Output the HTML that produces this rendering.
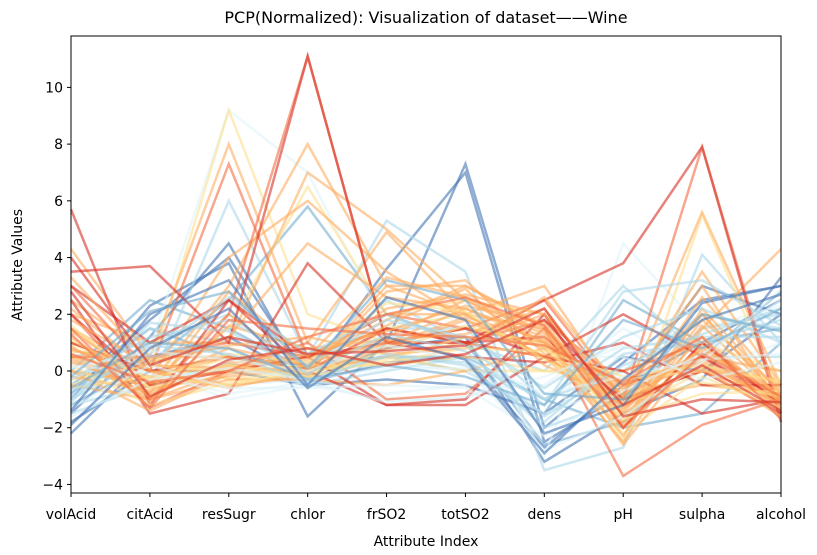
<!DOCTYPE html>
<html><head><meta charset="utf-8">
<style>
body{margin:0;background:#fff;width:817px;height:550px;overflow:hidden;font-family:"Liberation Sans","DejaVu Sans",sans-serif}
svg text{font-family:"DejaVu Sans","Liberation Sans",sans-serif;fill:#000}
</style></head>
<body>
<svg id="chart" width="817" height="550">
<text x="426" y="23" font-size="16" text-anchor="middle">PCP(Normalized): Visualization of dataset——Wine</text>
<g id="lines"></g>
<rect x="71" y="36" width="710" height="457" fill="none" stroke="#000" stroke-width="1"/>
<g id="yticks"></g>
<g id="xticks"></g>
<text x="426" y="546" font-size="14" text-anchor="middle">Attribute Index</text>
<text x="22" y="265" font-size="14" text-anchor="middle" transform="rotate(-90 22 265)">Attribute Values</text>
</svg>
<script>
const categories=["volAcid","citAcid","resSugr","chlor","frSO2","totSO2","dens","pH","sulpha","alcohol"];
const yTicks=[-4,-2,0,2,4,6,8,10];
const palette=["#4575b4","#74add1","#abd9e9","#e0f3f8","#fee090","#fdae61","#f46d43","#d73027"];
const lineClasses=[0,0,0,0,1,1,0,1, 2,3,3,2,2,3,2,3, 4,4,4,4, 5,5,5,5,5,5,5,5,5,5, 6,6,6,6, 7,7,7,7,7,7, 5,5,4,2,
5,5,5,4,5,5,5,5,4,5,5,5,4,4,5, 2,3,2,3,3,2,3,2, 0,1,0,1, 7,6,7,6];
const lineValues=[
[-2.2,0.5,1.2,-0.3,0.8,1.2,-3.2,-1.5,-0.3,3.3],
[-1.5,1.2,4.5,-0.4,0.3,0.5,-2.7,-0.5,1.0,2.5],
[-1.0,2.3,3.8,-1.6,1.0,7.3,-2.0,0.3,2.5,3.0],
[-0.8,1.8,4.0,-0.2,3.6,7.0,-2.5,-0.8,3.0,2.0],
[-1.2,0.3,2.5,5.8,2.0,1.0,-2.6,-1.8,0.5,2.8],
[-0.5,1.5,0.5,0.2,0.5,0.0,-1.5,2.5,1.0,1.5],
[-1.8,0.0,0.0,-0.5,-0.3,-0.5,-1.5,0.5,0.0,2.0],
[0.0,2.5,1.5,0.0,0.5,0.5,-1.0,-2.0,-1.5,1.0],
[-1.5,-0.5,6.0,0.5,5.3,3.5,-3.5,-2.7,4.1,1.0],
[-1.0,0.8,9.2,7.0,1.5,2.0,-3.0,4.5,1.5,2.3],
[-0.5,0.3,-0.5,-0.3,-0.8,-0.5,-0.5,1.5,0.0,1.0],
[0.5,1.0,2.0,0.0,2.5,1.0,0.0,3.0,0.5,0.5],
[-1.2,-0.5,0.3,-0.5,0.0,0.5,-2.0,-1.0,1.5,2.0],
[0.0,0.0,-1.0,-0.5,-1.0,-1.0,0.5,0.5,-0.5,-0.5],
[-0.8,1.5,1.0,0.5,1.5,1.5,-1.0,0.0,2.0,1.5],
[0.3,0.5,0.0,-0.2,0.3,0.0,-1.5,-0.5,0.5,0.0],
[0.5,0.0,9.2,2.0,1.0,1.5,1.0,-1.0,0.5,-0.5],
[1.0,-0.5,0.5,-0.3,1.5,2.0,0.5,-1.5,0.0,-1.0],
[-0.5,0.5,-0.3,0.0,0.5,0.0,0.0,0.0,1.0,0.0],
[0.0,-0.5,1.5,6.5,2.0,2.5,2.0,-2.5,5.5,-1.0],
[4.3,0.5,8.0,1.0,4.9,2.0,3.0,-1.0,5.6,-0.5],
[1.5,-0.5,3.0,8.0,3.0,3.0,1.5,-2.0,1.0,-1.2],
[2.0,1.0,1.0,7.0,5.0,2.5,1.0,-0.5,2.0,-1.0],
[0.5,-1.0,0.0,0.5,2.0,2.0,0.5,-1.0,0.0,-1.0],
[1.0,0.0,-0.5,-0.2,1.0,1.5,1.0,-1.0,-0.5,-0.8],
[0.0,-0.5,2.0,0.0,0.5,1.0,0.5,-2.0,1.0,-1.5],
[-0.5,-1.0,-0.3,-0.3,-0.5,0.0,0.8,-0.5,0.5,0.0],
[2.5,0.5,0.5,0.0,3.0,2.0,1.5,-1.5,2.0,-1.0],
[0.8,-0.3,4.0,6.0,3.5,1.8,0.8,-2.5,1.5,4.3],
[1.5,0.0,0.0,0.5,1.5,1.0,2.0,-1.0,3.5,-0.5],
[3.0,0.0,7.3,0.5,2.0,1.5,2.5,-1.0,7.9,-1.5],
[2.0,-1.0,2.0,11.1,1.0,1.0,0.5,0.0,1.0,-1.0],
[1.5,-1.3,0.0,1.0,-1.0,-0.8,1.5,-3.7,-1.9,-1.0],
[0.5,0.5,1.0,0.5,1.5,1.0,1.8,-0.5,0.5,-1.2],
[5.7,-1.2,2.5,0.5,-1.2,-1.2,0.5,2.0,0.5,-1.0],
[3.5,3.7,1.0,11.1,1.0,1.0,2.5,3.8,7.9,-1.8],
[2.5,-1.5,-0.8,3.8,1.0,1.5,0.5,0.0,-1.5,-1.0],
[1.0,0.0,0.5,0.0,1.5,1.0,1.2,-1.0,0.0,-1.5],
[3.0,1.0,2.5,0.0,-1.2,-1.0,2.0,-2.0,1.0,-1.2],
[2.0,-0.5,0.0,0.5,1.0,0.5,0.3,1.0,-0.5,-0.5],
[1.2,-0.8,0.2,0.3,1.0,2.2,1.0,-0.8,0.3,-1.2],
[0.8,-0.2,0.5,0.0,0.8,1.8,0.5,-1.2,0.8,-0.8],
[-0.3,0.2,0.0,0.2,0.2,0.5,0.0,-0.3,0.0,-0.3],
[-1.0,0.5,0.8,-0.3,0.5,0.3,-1.0,0.8,1.2,1.2],
[0.3,-0.6,-0.2,0.1,1.2,2.5,1.3,-1.3,0.2,-1.0],
[0.6,-0.9,0.3,0.4,1.8,3.0,1.6,-1.6,1.2,-1.1],
[1.4,-0.4,0.8,0.2,2.2,2.7,2.0,-0.9,0.7,-0.9],
[0.2,-1.2,-0.4,-0.1,0.7,1.6,0.9,-2.2,-0.2,-1.3],
[1.8,0.2,0.1,0.6,1.4,2.3,1.7,-1.8,1.8,-0.7],
[-0.2,-0.7,0.2,-0.1,2.8,3.2,0.6,-0.6,0.4,-1.2],
[0.9,-1.1,1.6,0.8,1.1,1.3,2.2,-1.4,2.6,-0.6],
[2.2,0.0,-0.6,0.0,0.9,1.9,1.1,-2.6,0.9,-1.4],
[1.1,-0.3,0.6,0.3,2.4,2.1,0.4,-1.1,-0.4,-0.9],
[0.4,-0.8,2.8,0.5,3.3,2.6,1.4,-1.9,1.6,-1.0],
[3.3,0.3,0.9,1.2,0.6,0.8,2.6,-0.7,3.0,-1.3],
[0.0,-1.4,-0.1,0.2,1.6,2.9,0.2,-1.0,0.1,-1.6],
[1.6,-0.6,0.2,-0.2,0.4,1.2,0.9,-1.7,-0.8,-0.7],
[-0.6,-0.2,-0.5,0.0,0.3,0.8,0.7,-0.2,0.2,-0.4],
[0.7,0.4,1.2,4.5,2.6,2.2,1.2,-2.3,2.2,-0.8],
[-0.9,0.9,0.6,-0.4,0.6,0.2,-1.8,0.6,1.0,1.8],
[-1.3,0.2,-0.6,-0.6,-0.5,-0.6,-2.3,-0.7,0.6,2.5],
[-0.3,1.2,1.8,0.2,1.8,1.2,-0.6,1.2,2.2,1.0],
[-1.6,-0.3,0.1,-0.3,0.1,0.1,-2.8,-1.6,0.3,2.9],
[0.2,-0.1,-0.8,-0.4,-1.1,-0.9,-0.2,0.9,-0.3,0.3],
[-0.7,0.6,2.6,0.6,2.0,0.9,-1.2,2.8,3.2,1.6],
[0.1,0.7,0.4,0.0,0.9,0.4,-0.8,-0.2,0.4,0.6],
[-1.1,1.7,1.4,-0.1,1.3,0.7,-1.6,0.2,1.3,2.2],
[-1.4,2.0,3.2,-0.5,2.6,1.8,-2.2,-1.2,2.4,3.0],
[-0.6,1.0,0.8,-0.3,0.2,-0.2,-1.2,1.8,0.8,2.2],
[-1.9,0.8,2.2,-0.6,1.2,0.4,-2.9,-0.3,1.8,2.7],
[-0.2,2.1,2.8,0.1,3.2,2.5,-0.8,-1.0,2.0,1.4],
[2.8,-0.9,0.4,0.8,0.2,0.6,1.8,-1.2,0.2,-1.4],
[1.3,-1.3,1.8,1.5,1.3,1.2,0.9,-0.4,1.2,-1.7],
[4.0,0.2,1.2,0.6,0.7,0.9,2.2,-1.6,-1.0,-1.1],
[0.6,-0.4,0.0,1.2,2.0,2.6,1.6,-2.0,0.6,-0.9]
];
const NS="http://www.w3.org/2000/svg";
const X0=71,X1=781,Y0=371,PXU=28.36;
function xScale(i){return X0+i*(X1-X0)/(categories.length-1);}
function yScale(v){return Y0-v*PXU;}
const gl=document.getElementById('lines');
lineValues.forEach((vals,k)=>{
  const p=document.createElementNS(NS,'polyline');
  p.setAttribute('points',vals.map((v,i)=>xScale(i)+','+yScale(v)).join(' '));
  p.setAttribute('fill','none');
  p.setAttribute('stroke',palette[lineClasses[k]]);
  p.setAttribute('stroke-width','2.5');
  p.setAttribute('stroke-opacity','0.6');
  
  
  gl.appendChild(p);
});
const gy=document.getElementById('yticks');
yTicks.forEach(t=>{
  const y=yScale(t);
  const l=document.createElementNS(NS,'line');
  l.setAttribute('x1',X0-4);l.setAttribute('x2',X0);l.setAttribute('y1',y);l.setAttribute('y2',y);
  l.setAttribute('stroke','#000');
  
  
  gy.appendChild(l);
  const tx=document.createElementNS(NS,'text');
  tx.setAttribute('x',X0-8);tx.setAttribute('y',y+5);tx.setAttribute('text-anchor','end');tx.setAttribute('font-size','14');
  tx.textContent=(t<0?'\u2212'+(-t):String(t));
  
  
  gy.appendChild(tx);
});
const gx=document.getElementById('xticks');
categories.forEach((c,i)=>{
  const x=xScale(i);
  const l=document.createElementNS(NS,'line');
  l.setAttribute('x1',x);l.setAttribute('x2',x);l.setAttribute('y1',493);l.setAttribute('y2',497);
  l.setAttribute('stroke','#000');
  
  
  gx.appendChild(l);
  const tx=document.createElementNS(NS,'text');
  tx.setAttribute('x',x);tx.setAttribute('y',519);tx.setAttribute('text-anchor','middle');tx.setAttribute('font-size','14');
  tx.textContent=c;
  
  
  gx.appendChild(tx);
});
</script>
</body></html>
